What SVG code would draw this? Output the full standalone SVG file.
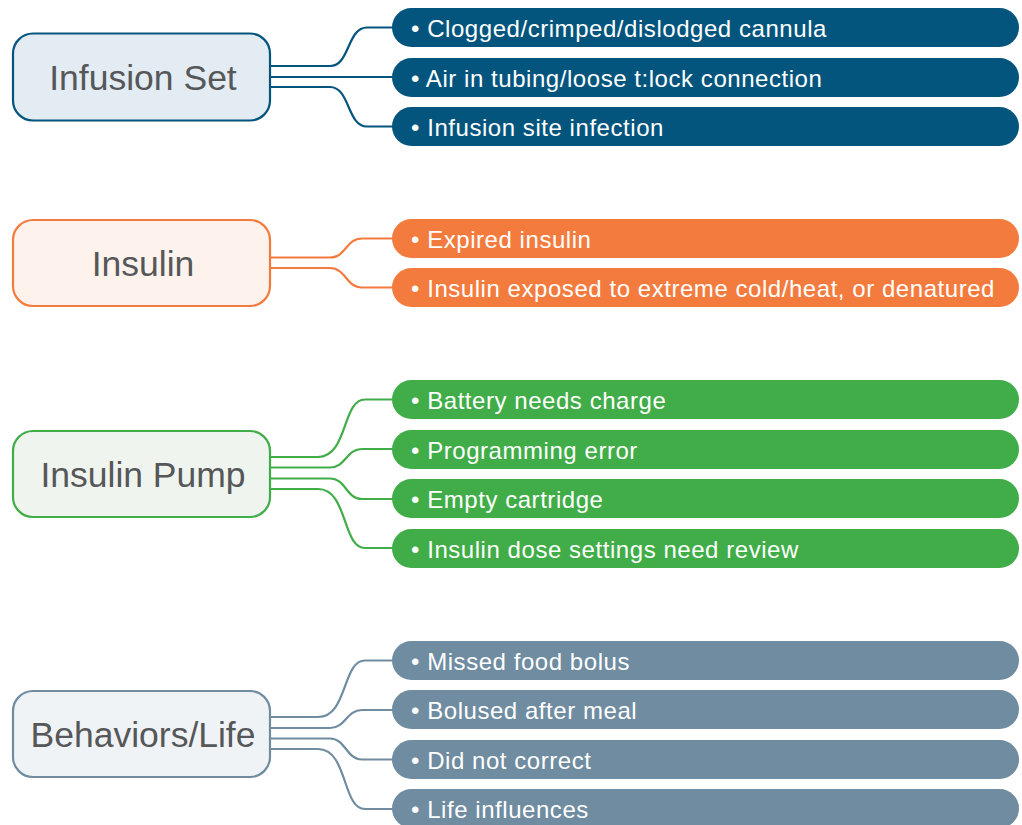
<svg xmlns="http://www.w3.org/2000/svg" width="1022" height="825" viewBox="0 0 1022 825">
<style>
.node{stroke-width:2.2}
.nt{font-family:"Liberation Sans",Arial,sans-serif;font-size:35.5px;fill:#555759;text-anchor:middle}
.pt{font-family:"Liberation Sans",Arial,sans-serif;font-size:24px;letter-spacing:0.55px;fill:#ffffff}
.c{fill:none;stroke-width:2.2}
.blue{fill:#03557e}.orange{fill:#f47b3e}.green{fill:#40ad48}.slate{fill:#6f8ca1}
</style>
<rect width="1022" height="825" fill="#ffffff"/>
<g id="connectors">
<g stroke="#03557e" class="c">
<path class="c" d="M270,66 H330 C350,66 347,27.5 367,27.5 H395"/>
<path class="c" d="M270,77 H395"/>
<path class="c" d="M270,87 H330 C350,87 347,126.5 367,126.5 H395"/>
</g>
<g stroke="#f47b3e" class="c">
<path class="c" d="M270,257.5 H330 C346,257.5 346,238.5 362,238.5 H395"/>
<path class="c" d="M270,268 H330 C346,268 346,287.5 362,287.5 H395"/>
</g>
<g stroke="#40ad48" class="c">
<path class="c" d="M270,457 H318 C348,457 342,399.5 365,399.5 H395"/>
<path class="c" d="M270,467.5 H330 C346,467.5 346,449 362,449 H395"/>
<path class="c" d="M270,478.5 H330 C346,478.5 346,499 362,499 H395"/>
<path class="c" d="M270,489 H318 C348,489 342,548 365,548 H395"/>
</g>
<g stroke="#6f8ca1" class="c">
<path class="c" d="M270,717 H318 C348,717 342,660.5 365,660.5 H395"/>
<path class="c" d="M270,728 H330 C346,728 346,710 362,710 H395"/>
<path class="c" d="M270,738.5 H330 C346,738.5 346,759.5 362,759.5 H395"/>
<path class="c" d="M270,749 H318 C348,749 342,809 365,809 H395"/>
</g>
</g>
<g id="node-infusion-set">
<rect class="node" x="13" y="33.5" width="257" height="87" rx="20" fill="#e3ebf3" stroke="#03557e"/>
<text class="nt" x="143" y="90">Infusion Set</text>
</g>
<g id="item-clogged"><rect class="blue" x="392" y="8" width="627" height="39" rx="19.5"/><text class="pt" x="411" y="37">• Clogged/crimped/dislodged cannula</text></g>
<g id="item-air"><rect class="blue" x="392" y="58" width="627" height="39" rx="19.5"/><text class="pt" x="411" y="87">• Air in tubing/loose t:lock connection</text></g>
<g id="item-site"><rect class="blue" x="392" y="107" width="627" height="39" rx="19.5"/><text class="pt" x="411" y="136">• Infusion site infection</text></g>
<g id="node-insulin">
<rect class="node" x="13" y="220" width="257" height="86" rx="20" fill="#fef3ec" stroke="#f47b3e"/>
<text class="nt" x="143" y="276">Insulin</text>
</g>
<g id="item-expired"><rect class="orange" x="392" y="219" width="627" height="39" rx="19.5"/><text class="pt" x="411" y="248">• Expired insulin</text></g>
<g id="item-exposed"><rect class="orange" x="392" y="268" width="627" height="39" rx="19.5"/><text class="pt" x="411" y="297">• Insulin exposed to extreme cold/heat, or denatured</text></g>
<g id="node-pump">
<rect class="node" x="13" y="431" width="257" height="86" rx="20" fill="#eff5ee" stroke="#40ad48"/>
<text class="nt" x="143" y="487">Insulin Pump</text>
</g>
<g id="item-battery"><rect class="green" x="392" y="380" width="627" height="39" rx="19.5"/><text class="pt" x="411" y="409">• Battery needs charge</text></g>
<g id="item-programming"><rect class="green" x="392" y="430" width="627" height="39" rx="19.5"/><text class="pt" x="411" y="459">• Programming error</text></g>
<g id="item-cartridge"><rect class="green" x="392" y="479" width="627" height="39" rx="19.5"/><text class="pt" x="411" y="508">• Empty cartridge</text></g>
<g id="item-dose"><rect class="green" x="392" y="529" width="627" height="39" rx="19.5"/><text class="pt" x="411" y="558">• Insulin dose settings need review</text></g>
<g id="node-behaviors">
<rect class="node" x="13" y="691" width="257" height="86" rx="20" fill="#eff3f6" stroke="#6f8ca1"/>
<text class="nt" x="143" y="747">Behaviors/Life</text>
</g>
<g id="item-missed"><rect class="slate" x="392" y="641" width="627" height="39" rx="19.5"/><text class="pt" x="411" y="670">• Missed food bolus</text></g>
<g id="item-bolused"><rect class="slate" x="392" y="690" width="627" height="39" rx="19.5"/><text class="pt" x="411" y="719">• Bolused after meal</text></g>
<g id="item-correct"><rect class="slate" x="392" y="740" width="627" height="39" rx="19.5"/><text class="pt" x="411" y="769">• Did not correct</text></g>
<g id="item-life"><rect class="slate" x="392" y="789" width="627" height="39" rx="19.5"/><text class="pt" x="411" y="818">• Life influences</text></g>
</svg>
